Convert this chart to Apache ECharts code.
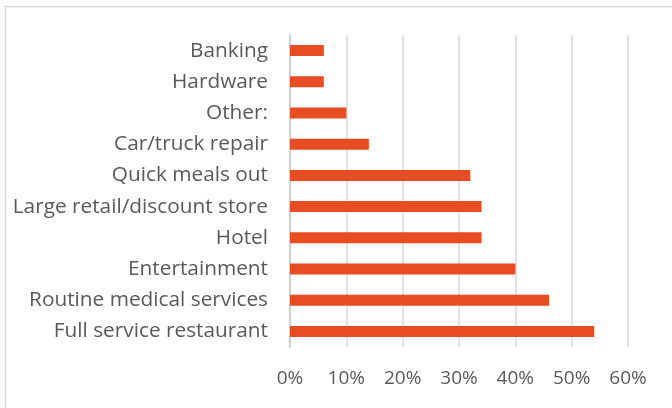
<!DOCTYPE html>
<html>
<head>
<meta charset="utf-8">
<script src="https://cdn.jsdelivr.net/npm/echarts@6/dist/echarts.min.js"></script>
<style>
  html, body { margin: 0; padding: 0; background: #fff; }
  #main { width: 672px; height: 408px; }
</style>
</head>
<body>
<div id="main"></div>
<script>
// categories, top to bottom as shown
var categories = ["Banking", "Hardware", "Other:", "Car/truck repair", "Quick meals out",
    "Large retail/discount store", "Hotel", "Entertainment", "Routine medical services", "Full service restaurant"];
// share of respondents (%)
var shares = [6, 6, 10, 14, 32, 34, 34, 40, 46, 54];
var tickMax = 60;
var tickStep = 10;

var myChart = echarts.init(document.getElementById("main"));
var option = {
    animation: false,
    // outer frame of the chart area
    graphic: [
        {
            type: "rect",
            shape: { x: 5.5, y: 6.5, width: 700, height: 420 },
            style: { fill: "none", stroke: "#d9d9d9", lineWidth: 1.5 },
            silent: true
        }
    ],
    grid: {
        left: 290,
        right: 44,
        top: 35,
        bottom: 61
    },
    xAxis: {
        type: "value",
        min: 0,
        max: tickMax,
        interval: tickStep,
        axisLine: { show: false },
        axisTick: { show: false },
        splitLine: { lineStyle: { color: "#d9d9d9", width: 1.5 } },
        axisLabel: {
            formatter: "{value}%",
            color: "#595959",
            fontFamily: "Open Sans",
            fontSize: 19,
            margin: 22
        }
    },
    yAxis: {
        type: "category",
        inverse: true,
        data: categories,
        axisLine: { show: true, lineStyle: { color: "#d0d0d0", width: 2 } },
        axisTick: { show: false },
        axisLabel: {
            color: "#595959",
            fontFamily: "Open Sans",
            fontSize: 20.8,
            margin: 22
        }
    },
    series: [
        {
            type: "bar",
            data: shares,
            barWidth: 11,
            itemStyle: { color: "#e84c22" }
        }
    ]
};
myChart.setOption(option);
</script>
</body>
</html>
